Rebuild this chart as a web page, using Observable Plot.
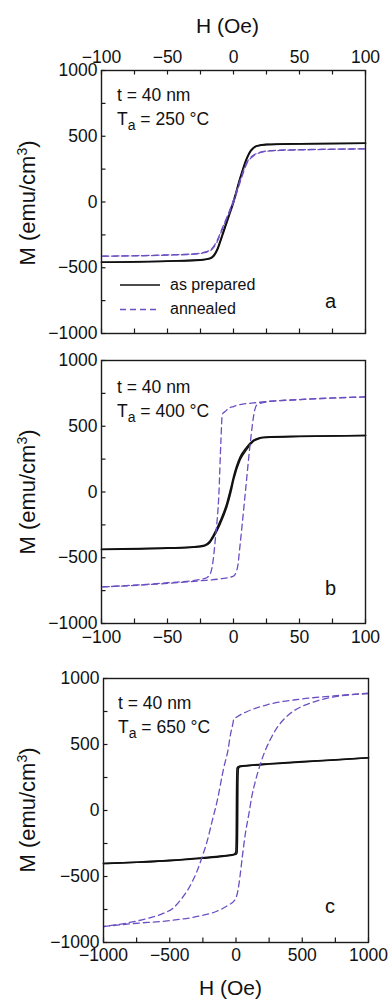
<!DOCTYPE html>
<html><head><meta charset="utf-8">
<script src="https://cdn.jsdelivr.net/npm/d3@7"></script>
<script src="https://cdn.jsdelivr.net/npm/@observablehq/plot@0.6"></script>
<style>
body{margin:0;background:#fff;}
#wrap{position:relative;width:388px;height:1000px;overflow:hidden;font-family:"Liberation Sans",Arial,Helvetica,sans-serif;}
#wrap > svg{position:absolute;left:0;}
</style></head><body><div id="wrap"></div>
<script>
// ---------- data (H in Oe, M in emu/cm^3) ----------
const yMajor = [-1000, -500, 0, 500, 1000];
const yMinor = [-1000, -750, -500, -250, 0, 250, 500, 750, 1000];
const xMajor100 = [-100, -50, 0, 50, 100];
const xMinor100 = [-100, -75, -50, -25, 0, 25, 50, 75, 100];
const xMajor1000 = [-1000, -500, 0, 500, 1000];
const xMinor1000 = [-1000, -750, -500, -250, 0, 250, 500, 750, 1000];

// panel a: Ta = 250 °C
const aPrepUp = [[-100,-458],[-50,-450],[-25,-442],[-18,-432],[-15,-412],[-12,-360],[-10,-305],[-8,-245],[-4,-125],[0,-5],[5,175],[10,325],[13,385],[15,408],[18,426],[25,436],[50,442],[100,447]];
const aPrepDn = [[100,447],[50,443],[25,438],[18,428],[15,412],[13,392],[10,335],[5,185],[0,8],[-4,-112],[-8,-232],[-10,-292],[-12,-350],[-15,-405],[-18,-428],[-25,-440],[-50,-449],[-100,-458]];
const aAnnUp = [[-100,-412],[-50,-404],[-30,-396],[-22,-385],[-17,-366],[-13,-315],[-9,-220],[-5,-125],[0,-5],[5,150],[10,290],[15,350],[20,375],[25,385],[35,392],[50,396],[100,404]];
const aAnnDn = [[100,404],[50,398],[35,394],[25,388],[20,378],[15,355],[10,300],[5,165],[0,15],[-5,-115],[-9,-210],[-13,-305],[-17,-360],[-22,-382],[-30,-394],[-50,-402],[-100,-412]];

// panel b: Ta = 400 °C
const bPrepUp = [[-100,-437],[-50,-428],[-30,-420],[-22,-410],[-18,-385],[-15,-340],[-10,-240],[-5,-110],[-2,0],[0,90],[5,245],[10,325],[15,385],[20,408],[25,415],[50,422],[100,430]];
const bPrepDn = [[100,430],[50,424],[25,418],[20,412],[15,392],[10,340],[5,265],[0,115],[-2,30],[-5,-85],[-10,-220],[-15,-325],[-18,-375],[-22,-405],[-30,-417],[-50,-425],[-100,-435]];
const bAnnUp = [[-100,-722],[-50,-695],[-25,-675],[-10,-660],[0,-640],[3,-575],[5,-400],[9,0],[13,400],[16,620],[17.5,660],[25,685],[50,703],[100,723]];
const bAnnDn = [[100,723],[50,703],[25,688],[15,677],[5,665],[0,650],[-3,640],[-6,615],[-8.5,590],[-9.5,400],[-11,0],[-13.5,-330],[-16,-560],[-17.5,-620],[-20,-650],[-25,-665],[-50,-690],[-100,-722]];

// panel c: Ta = 650 °C
const cPrepUp = [[-1000,-402],[-750,-392],[-500,-380],[-250,-362],[-100,-348],[-30,-338],[0,-332],[8,-320],[12,-100],[14,200],[18,318],[30,332],[100,340],[250,352],[500,368],[750,383],[1000,400]];
const cPrepDn = [[1000,400],[750,385],[500,370],[250,354],[100,343],[30,336],[15,330],[8,320],[4,100],[2,-200],[-2,-318],[-20,-334],[-100,-344],[-250,-358],[-500,-378],[-750,-392],[-1000,-402]];
const cAnnUp = [[-1000,-879],[-771,-856],[-519,-836],[-268,-798],[-150,-765],[-66,-722],[-4,-671],[14,-608],[30,-500],[47,-356],[70,-180],[97,-27],[120,110],[147,225],[180,340],[210,427],[260,540],[311,629],[370,700],[436,755],[520,798],[612,831],[750,862],[1000,885]];
const cAnnDn = [[1000,889],[738,868],[487,844],[235,801],[85,750],[9,710],[-17,690],[-25,650],[-41,579],[-60,460],[-92,326],[-142,73],[-180,-80],[-217,-230],[-255,-350],[-293,-457],[-330,-540],[-368,-608],[-420,-680],[-469,-735],[-550,-780],[-645,-811],[-800,-848],[-1000,-879]];

const seriesLabels = ["as prepared", "annealed"];
const panelLetters = ["a", "b", "c"];
const annealTemps = ["250 °C", "400 °C", "650 °C"];
const thickness = "t = 40 nm";

// ---------- styles ----------
const FONT = '"Liberation Sans", Arial, Helvetica, sans-serif';
const BLACK = "#111";
const PURPLE = "#6c4fc2";
const DASH = "6,4";
const TICK = 4.5;
const fmt = d3.format("d");
const wrap = document.getElementById("wrap");

function rows(up, dn) {
  return [
    ...up.map(([H, M]) => ({H, M, branch: "up"})),
    ...dn.map(([H, M]) => ({H, M, branch: "down"}))
  ];
}

function panel(o) {
  const fw = 388 - o.ml - o.mr;
  const fh = o.height - o.mt - o.mb;
  const marks = [
    Plot.axisY({ticks: yMajor, tickSize: 0, tickPadding: 4, tickFormat: fmt, label: null, fontSize: 17.5}),
    Plot.ruleY(yMinor, {y: d => d, insetRight: fw - TICK, stroke: "#1a1a1a", strokeWidth: 1.2}),
  ];
  if (o.topLabels) marks.push(Plot.axisX({anchor: "top", ticks: o.xMajor, tickSize: 0, tickPadding: 8, tickFormat: fmt, label: null, fontSize: 17.5}));
  if (o.topTicks) marks.push(Plot.ruleX(o.xMinor, {x: d => d, insetBottom: fh - TICK, stroke: "#1a1a1a", strokeWidth: 1.2}));
  if (o.bottomLabels) marks.push(Plot.axisX({anchor: "bottom", ticks: o.xMajor, tickSize: 0, tickPadding: o.padB, tickFormat: fmt, label: null, fontSize: 17.5}));
  else marks.push(Plot.axisX({ticks: [], label: null}));
  marks.push(Plot.ruleX(o.xMinor, {x: d => d, insetTop: fh - TICK, stroke: "#1a1a1a", strokeWidth: 1.2}));
  marks.push(Plot.line(rows(o.prepUp, o.prepDn), {x: "H", y: "M", z: "branch", stroke: BLACK, strokeWidth: 1.6, curve: "monotone-x"}));
  marks.push(Plot.line(rows(o.annUp, o.annDn), {x: "H", y: "M", z: "branch", stroke: PURPLE, strokeWidth: 1.3, strokeDasharray: DASH, curve: "monotone-x"}));
  marks.push(Plot.frame({stroke: "#1a1a1a", strokeWidth: 1.4}));
  const svg = Plot.plot({
    width: 388, height: o.height,
    marginTop: o.mt, marginBottom: o.mb, marginLeft: o.ml, marginRight: o.mr,
    x: {domain: o.xDomain},
    y: {domain: [-1000, 1000]},
    style: {fontFamily: FONT, fontSize: "17.5px", color: "#111", background: "transparent", overflow: "visible"},
    marks
  });
  svg.style.top = o.top + "px";
  wrap.appendChild(svg);
}

panel({top: 0, height: 345, mt: 70, mb: 12, ml: 101, mr: 23, xDomain: [-100, 100], xMajor: xMajor100, xMinor: xMinor100,
  topLabels: true, topTicks: true, bottomLabels: false, prepUp: aPrepUp, prepDn: aPrepDn, annUp: aAnnUp, annDn: aAnnDn});
panel({top: 345, height: 310, mt: 15, mb: 32, ml: 101, mr: 23, xDomain: [-100, 100], xMajor: xMajor100, xMinor: xMinor100,
  topLabels: false, topTicks: false, bottomLabels: true, padB: 7, prepUp: bPrepUp, prepDn: bPrepDn, annUp: bAnnUp, annDn: bAnnDn});
panel({top: 655, height: 345, mt: 23, mb: 58, ml: 103, mr: 20, xDomain: [-1000, 1000], xMajor: xMajor1000, xMinor: xMinor1000,
  topLabels: false, topTicks: false, bottomLabels: true, padB: 6, prepUp: cPrepUp, prepDn: cPrepDn, annUp: cAnnUp, annDn: cAnnDn});

// ---------- text overlay (titles, annotations, legend) ----------
const NS = "http://www.w3.org/2000/svg";
const ov = document.createElementNS(NS, "svg");
ov.setAttribute("width", 388); ov.setAttribute("height", 1000);
ov.style.top = "0px"; ov.style.pointerEvents = "none";
ov.setAttribute("font-family", FONT);
ov.setAttribute("fill", "#111");
wrap.appendChild(ov);

function txt(x, y, size, parts, attrs = {}) {
  const t = document.createElementNS(NS, "text");
  t.setAttribute("x", x); t.setAttribute("y", y); t.setAttribute("font-size", size);
  for (const k in attrs) t.setAttribute(k, attrs[k]);
  for (const p of parts) {
    const s = document.createElementNS(NS, "tspan");
    if (typeof p === "string") s.textContent = p;
    else { s.textContent = p.t; if (p.dy) s.setAttribute("dy", p.dy); if (p.size) s.setAttribute("font-size", p.size); }
    t.appendChild(s);
  }
  ov.appendChild(t);
  return t;
}

// H axis titles
txt(227.5, 33, 21, ["H (Oe)"], {"text-anchor": "middle"});
txt(230.5, 995, 21, ["H (Oe)"], {"text-anchor": "middle"});

// M axis titles
const frameCenters = [203, 492, 810];
frameCenters.forEach(cy => {
  txt(0, 0, 22, ["M (emu/cm", {t: "3", dy: -8, size: 14}, {t: ")", dy: 8}],
    {"text-anchor": "middle", transform: `translate(35,${cy}) rotate(-90)`});
});

// annotations
const annTops = [100.7, 393, 709];
const annLeft = [117, 117, 118];
annTops.forEach((b, i) => {
  txt(annLeft[i], b, 17.5, [thickness]);
  txt(annLeft[i], b + 23.8, 17.5, ["T", {t: "a", dy: 5, size: 14}, {t: " = " + annealTemps[i], dy: -5}]);
});

// panel letters
const letterBase = [308, 595, 912.5];
panelLetters.forEach((L, i) => txt(325, letterBase[i], 20, [L]));

// legend (panel a)
const lg = [[285, BLACK, null, 1.6], [309.5, PURPLE, DASH, 1.3]];
lg.forEach(([y, c, d, w], i) => {
  const l = document.createElementNS(NS, "line");
  l.setAttribute("x1", 120); l.setAttribute("x2", 160); l.setAttribute("y1", y); l.setAttribute("y2", y);
  l.setAttribute("stroke", c); l.setAttribute("stroke-width", w);
  if (d) l.setAttribute("stroke-dasharray", d);
  ov.appendChild(l);
  txt(170, y + 4.5, 16, [seriesLabels[i]]);
});
</script>
</body></html>
